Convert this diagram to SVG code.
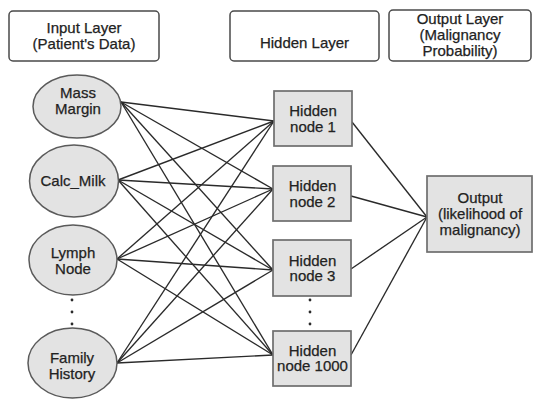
<svg xmlns="http://www.w3.org/2000/svg" width="535" height="399" viewBox="0 0 535 399">
  <style>
    text { font-family: "Liberation Sans", Arial, sans-serif; font-size: 15px; fill: #222222; stroke: #222222; stroke-width: 0.25; text-anchor: middle; }
    .hdr { fill: #ffffff; stroke: #4a4a4a; stroke-width: 1.5; }
    .inp { fill: #e3e3e3; stroke: #5a5a5a; stroke-width: 1.5; }
    .box { fill: #e3e3e3; stroke: #6e6e6e; stroke-width: 1.7; }
    .edge { stroke: #2a2a2a; stroke-width: 1.35; fill: none; }
    .dot { fill: #2a2a2a; }
  </style>

  <!-- layer headers -->
  <g id="header-input">
    <rect class="hdr" x="9" y="11" width="150" height="50" rx="4"/>
    <text x="84" y="33">Input Layer</text>
    <text x="84" y="48.5">(Patient's Data)</text>
  </g>
  <g id="header-hidden">
    <rect class="hdr" x="230" y="11" width="149" height="50" rx="4"/>
    <text x="304.5" y="48">Hidden Layer</text>
  </g>
  <g id="header-output">
    <rect class="hdr" x="389" y="10" width="142" height="51" rx="4"/>
    <text x="460" y="24">Output Layer</text>
    <text x="460" y="40">(Malignancy</text>
    <text x="460" y="56">Probability)</text>
  </g>

  <!-- connectors -->
  <g id="connectors">
    <!-- input -> hidden (fully connected) -->
    <line class="edge" x1="121" y1="102" x2="274" y2="121"/>
    <line class="edge" x1="121" y1="102" x2="273" y2="189"/>
    <line class="edge" x1="121" y1="102" x2="273" y2="270"/>
    <line class="edge" x1="121" y1="102" x2="273" y2="355"/>
    <line class="edge" x1="118" y1="180" x2="274" y2="121"/>
    <line class="edge" x1="118" y1="180" x2="273" y2="189"/>
    <line class="edge" x1="118" y1="180" x2="273" y2="270"/>
    <line class="edge" x1="118" y1="180" x2="273" y2="355"/>
    <line class="edge" x1="117" y1="259" x2="274" y2="121"/>
    <line class="edge" x1="117" y1="259" x2="273" y2="189"/>
    <line class="edge" x1="117" y1="259" x2="273" y2="270"/>
    <line class="edge" x1="117" y1="259" x2="273" y2="355"/>
    <line class="edge" x1="117" y1="363" x2="274" y2="121"/>
    <line class="edge" x1="117" y1="363" x2="273" y2="189"/>
    <line class="edge" x1="117" y1="363" x2="273" y2="270"/>
    <line class="edge" x1="117" y1="363" x2="273" y2="355"/>
    <!-- hidden -> output -->
    <line class="edge" x1="352" y1="122" x2="427" y2="217"/>
    <line class="edge" x1="351" y1="196" x2="427" y2="217"/>
    <line class="edge" x1="351" y1="269" x2="427" y2="217"/>
    <line class="edge" x1="351" y1="355" x2="427" y2="217"/>
  </g>

  <!-- input nodes -->
  <g id="in-mass-margin">
    <ellipse class="inp" cx="77" cy="106.5" rx="44" ry="31.5"/>
    <text x="78" y="98">Mass</text>
    <text x="78" y="113.5">Margin</text>
  </g>
  <g id="in-calc-milk">
    <ellipse class="inp" cx="74" cy="181" rx="44.5" ry="36"/>
    <text x="73" y="185.5">Calc_Milk</text>
  </g>
  <g id="in-lymph-node">
    <ellipse class="inp" cx="73" cy="260" rx="44" ry="35"/>
    <text x="73" y="258">Lymph</text>
    <text x="73" y="273.5">Node</text>
  </g>
  <g id="in-ellipsis">
    <circle class="dot" cx="72" cy="300" r="1.4"/>
    <circle class="dot" cx="72" cy="312" r="1.4"/>
    <circle class="dot" cx="72" cy="324" r="1.4"/>
  </g>
  <g id="in-family-history">
    <ellipse class="inp" cx="72.5" cy="363" rx="44.5" ry="35"/>
    <text x="72" y="363">Family</text>
    <text x="72" y="378.5">History</text>
  </g>

  <!-- hidden nodes -->
  <g id="hidden-1">
    <rect class="box" x="274" y="91" width="78" height="55"/>
    <text x="313" y="116">Hidden</text>
    <text x="313" y="131.5">node 1</text>
  </g>
  <g id="hidden-2">
    <rect class="box" x="273" y="166" width="78" height="55"/>
    <text x="312.5" y="191">Hidden</text>
    <text x="312.5" y="206.5">node 2</text>
  </g>
  <g id="hidden-3">
    <rect class="box" x="273" y="240" width="78" height="56"/>
    <text x="312.5" y="265.5">Hidden</text>
    <text x="312.5" y="281">node 3</text>
  </g>
  <g id="hidden-ellipsis">
    <circle class="dot" cx="310" cy="300" r="1.4"/>
    <circle class="dot" cx="310" cy="312" r="1.4"/>
    <circle class="dot" cx="310" cy="324" r="1.4"/>
  </g>
  <g id="hidden-1000">
    <rect class="box" x="273" y="331" width="78" height="55"/>
    <text x="312.5" y="355.5">Hidden</text>
    <text x="312.5" y="371">node 1000</text>
  </g>

  <!-- output node -->
  <g id="output">
    <rect class="box" x="427" y="176" width="105" height="76"/>
    <text x="480" y="203">Output</text>
    <text x="480" y="219">(likelihood of</text>
    <text x="480" y="235">malignancy)</text>
  </g>
</svg>
